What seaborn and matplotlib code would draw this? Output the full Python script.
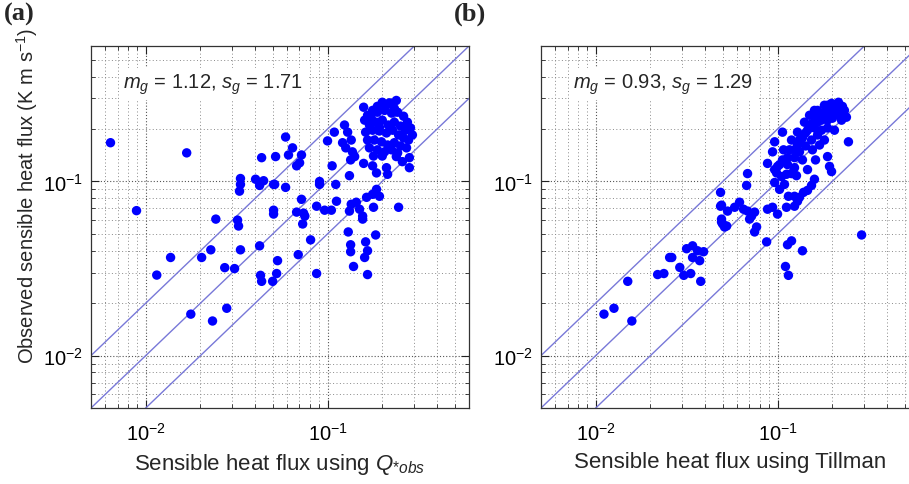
import matplotlib
matplotlib.use("Agg")
import matplotlib.pyplot as plt
import matplotlib.ticker as mticker
import numpy as np
import seaborn as sns

# (a) sensible heat flux from Q*obs vs observed (K m s-1)
qobs_x = [
    0.0064, 0.0168, 0.0089, 0.0115, 0.0137, 0.0203, 0.0228, 0.0332, 0.0272, 0.0308,
    0.0177, 0.0233, 0.0279, 0.0423, 0.0428, 0.0434, 0.0499, 0.0525, 0.0531, 0.0243,
    0.0320, 0.0324, 0.0434, 0.0518, 0.0332, 0.0332, 0.0328, 0.0402, 0.0423, 0.0445,
    0.0505, 0.0505, 0.0505, 0.0588, 0.0642, 0.0610, 0.0719, 0.0702, 0.0676, 0.0512,
    0.0588, 0.0904, 0.0904, 0.111, 0.0719, 0.112, 0.0871, 0.0964, 0.105, 0.0676,
    0.0738, 0.075, 0.073, 0.135, 0.144, 0.132, 0.150, 0.156, 0.164, 0.177,
    0.186, 0.193, 0.179, 0.246, 0.109, 0.124, 0.129, 0.100, 0.121, 0.126,
    0.135, 0.137, 0.141, 0.134, 0.106, 0.132, 0.158, 0.179, 0.200, 0.177,
    0.186, 0.211, 0.214, 0.239, 0.258, 0.282, 0.282, 0.158, 0.188, 0.200,
    0.219, 0.239, 0.130, 0.184, 0.134, 0.134, 0.162, 0.166, 0.160, 0.139,
    0.166, 0.0807, 0.069, 0.0871, 0.156,
    0.166, 0.174, 0.188, 0.206, 0.225, 0.243, 0.262, 0.275, 0.170, 0.186,
    0.200, 0.216, 0.233, 0.252, 0.268, 0.286, 0.162, 0.177, 0.193, 0.211,
    0.228, 0.246, 0.262, 0.279, 0.166, 0.181, 0.198, 0.214, 0.233, 0.252,
    0.272, 0.170, 0.188, 0.206, 0.225, 0.243, 0.177, 0.211, 0.233, 0.193,
    0.293, 0.160,
]
qobs_y = [
    0.167, 0.146, 0.068, 0.029, 0.0366, 0.0366, 0.0405, 0.0405, 0.0320, 0.0316,
    0.0173, 0.0158, 0.0187, 0.0427, 0.0289, 0.0267, 0.0267, 0.0296, 0.0351, 0.0608,
    0.0600, 0.0555, 0.137, 0.139, 0.104, 0.0962, 0.088, 0.103, 0.0949, 0.101,
    0.0962, 0.0684, 0.065, 0.180, 0.156, 0.142, 0.142, 0.128, 0.123, 0.0962,
    0.0925, 0.100, 0.0962, 0.0962, 0.079, 0.077, 0.0721, 0.0684, 0.0684, 0.0667,
    0.0658, 0.0633, 0.057, 0.074, 0.076, 0.0676, 0.0693, 0.0633, 0.0811, 0.0844,
    0.0901, 0.0822, 0.0711, 0.0711, 0.192, 0.211, 0.192, 0.171, 0.167, 0.156,
    0.173, 0.148, 0.139, 0.133, 0.123, 0.108, 0.127, 0.140, 0.140, 0.123,
    0.112, 0.120, 0.110, 0.139, 0.130, 0.137, 0.120, 0.267, 0.270, 0.285,
    0.283, 0.292, 0.0513, 0.0493, 0.0433, 0.0395, 0.045, 0.040, 0.0366, 0.0325,
    0.0292, 0.0462, 0.038, 0.0296, 0.0608,
    0.240, 0.231, 0.250, 0.256, 0.247, 0.250, 0.237, 0.219, 0.211, 0.219,
    0.225, 0.211, 0.219, 0.208, 0.197, 0.203, 0.192, 0.197, 0.195, 0.190,
    0.197, 0.185, 0.178, 0.173, 0.173, 0.173, 0.169, 0.162, 0.167, 0.160,
    0.156, 0.156, 0.152, 0.148, 0.152, 0.146, 0.256, 0.274, 0.263, 0.205,
    0.185, 0.225,
]

# (b) sensible heat flux from Tillman vs observed
till_x = [
    0.0150, 0.0111, 0.0126, 0.0158, 0.0219, 0.0237, 0.0255, 0.0262, 0.0290, 0.0305,
    0.0333, 0.0378, 0.0316, 0.0341, 0.0363, 0.0341, 0.0373, 0.0392, 0.0492, 0.0499,
    0.0511, 0.0748, 0.0871, 0.1135, 0.1194, 0.1371, 0.1106, 0.1148, 0.290, 0.0486,
    0.0486, 0.0492, 0.2163, 0.2275, 0.2393, 0.1884, 0.166, 0.1596, 0.1746, 0.2004,
    0.1065, 0.0964, 0.0939, 0.0881, 0.2455, 0.1884, 0.1932, 0.1982, 0.1596, 0.1538,
    0.1462, 0.0684, 0.0676, 0.1000, 0.0988, 0.1052, 0.1120, 0.1194, 0.1271, 0.0964,
    0.1026, 0.1092, 0.1148, 0.1240, 0.1288, 0.0881, 0.0939, 0.1000, 0.1120, 0.1240,
    0.1321, 0.1390, 0.0492, 0.0531, 0.0581, 0.0618, 0.0650, 0.0684, 0.0720, 0.0748,
    0.0702, 0.0767, 0.0525,
    0.0964, 0.1026, 0.1065, 0.1135, 0.1164, 0.1240, 0.1288, 0.1321, 0.1371, 0.1425,
    0.1462, 0.150, 0.1538, 0.1596, 0.166, 0.1702, 0.1766, 0.1837, 0.1884, 0.1932,
    0.2004, 0.2084, 0.2138, 0.2193, 0.2249, 0.1746, 0.166, 0.1538, 0.1425, 0.1321,
    0.1240, 0.1135, 0.1079, 0.1194, 0.1288, 0.1406, 0.150, 0.1596, 0.1811, 0.1982,
    0.2333, 0.1884, 0.1702, 0.1556, 0.1371, 0.1240, 0.1462, 0.1618, 0.1811, 0.2056,
]
till_y = [
    0.0267, 0.0173, 0.0187, 0.0158, 0.0292, 0.0296, 0.0366, 0.0366, 0.0321, 0.0289,
    0.0296, 0.0267, 0.0411, 0.0427, 0.0400, 0.0366, 0.0351, 0.0395, 0.0585, 0.0570,
    0.0548, 0.0513, 0.0450, 0.0433, 0.0456, 0.0400, 0.0325, 0.0289, 0.0493, 0.0866,
    0.0721, 0.0608, 0.285, 0.270, 0.234, 0.274, 0.256, 0.234, 0.225, 0.256,
    0.192, 0.169, 0.148, 0.127, 0.169, 0.139, 0.122, 0.114, 0.103, 0.0949,
    0.0889, 0.111, 0.0949, 0.122, 0.112, 0.1067, 0.110, 0.111, 0.108, 0.0987,
    0.0901, 0.0962, 0.0822, 0.0822, 0.0770, 0.0693, 0.0711, 0.0650, 0.0711, 0.0721,
    0.0811, 0.0866, 0.0731, 0.0676, 0.0711, 0.0760, 0.0693, 0.0676, 0.0633, 0.0667,
    0.0608, 0.0548, 0.0555,
    0.117, 0.125, 0.133, 0.137, 0.152, 0.152, 0.162, 0.173, 0.178, 0.190,
    0.197, 0.205, 0.214, 0.203, 0.219, 0.231, 0.240, 0.250, 0.225, 0.240,
    0.231, 0.250, 0.263, 0.240, 0.225, 0.197, 0.185, 0.173, 0.160, 0.148,
    0.137, 0.125, 0.152, 0.173, 0.192, 0.219, 0.240, 0.256, 0.274, 0.281,
    0.256, 0.203, 0.162, 0.152, 0.133, 0.120, 0.117, 0.133, 0.173, 0.197,
]

panels = [
    ("(a)", qobs_x, qobs_y, r"$m_g$ = 1.12, $s_g$ = 1.71",
     r"Sensible heat flux using $Q_{*obs}$"),
    ("(b)", till_x, till_y, r"$m_g$ = 0.93, $s_g$ = 1.29",
     "Sensible heat flux using Tillman"),
]
ratios = [0.5, 1.0, 2.0]
lims = np.array([0.005, 0.6])

sns.set_style("ticks")
plt.rcParams["font.family"] = ["Liberation Sans", "DejaVu Sans"]
plt.rcParams["mathtext.fontset"] = "custom"
plt.rcParams["mathtext.rm"] = "Liberation Sans"
plt.rcParams["mathtext.it"] = "Liberation Sans:italic"
plt.rcParams["mathtext.bf"] = "Liberation Sans:bold"

fig = plt.figure(figsize=(9.09, 4.85), dpi=100)
W, H = 909, 485
lefts = [91, 541]
top, bottom, width = 47, 409, 378

for i, (tag, xs, ys, note, xlab) in enumerate(panels):
    ax = fig.add_axes([lefts[i] / W, (H - bottom) / H, width / W, (bottom - top) / H])
    ax.set_xscale("log")
    ax.set_yscale("log")
    ax.set_xlim(*lims)
    ax.set_ylim(*lims)

    ax.grid(True, which="major", color="#555555", linestyle=(0, (1, 1.8)), linewidth=0.8, zorder=0)
    ax.grid(True, which="minor", color="#8a8a8a", linestyle=(0, (1, 2.5)), linewidth=0.7, zorder=0)
    ax.set_axisbelow(True)

    for k in ratios:
        ax.plot(lims, lims * k, color="#7878d8", linewidth=1.0, zorder=2)

    sns.scatterplot(x=xs, y=ys, ax=ax, color="#0000ff", s=46, edgecolor="none",
                    linewidth=0, zorder=3)

    ax.xaxis.set_major_locator(mticker.LogLocator(base=10))
    ax.yaxis.set_major_locator(mticker.LogLocator(base=10))
    ax.xaxis.set_minor_formatter(mticker.NullFormatter())
    ax.yaxis.set_minor_formatter(mticker.NullFormatter())
    ax.tick_params(which="both", direction="in", top=True, right=True,
                   labelsize=14.5, colors="#222222", labelcolor="black")
    ax.tick_params(which="major", length=6, width=0.8, pad=6)
    ax.tick_params(axis="x", which="major", pad=10)
    ax.tick_params(which="minor", length=3, width=0.6)
    for sp in ax.spines.values():
        sp.set_color("#333333")
        sp.set_linewidth(0.9)

    ax.text(0.085, 0.895, note, transform=ax.transAxes, fontsize=14.5,
            va="center", ha="left", zorder=4,
            bbox=dict(facecolor="white", edgecolor="none", pad=3))
    ax.set_xlabel(xlab, fontsize=16, labelpad=5)
    if i == 0:
        ax.set_ylabel(r"Observed sensible heat flux (K m s$^{-1}$)", fontsize=14.5)
        ax.yaxis.set_label_coords(-0.135, 0.588)

    fig.text((lefts[i] - 87) / W, 1 - 3 / H, tag, fontsize=19, fontweight="bold",
             family="Liberation Serif", ha="left", va="top")

fig.savefig("out.png", dpi=100)
